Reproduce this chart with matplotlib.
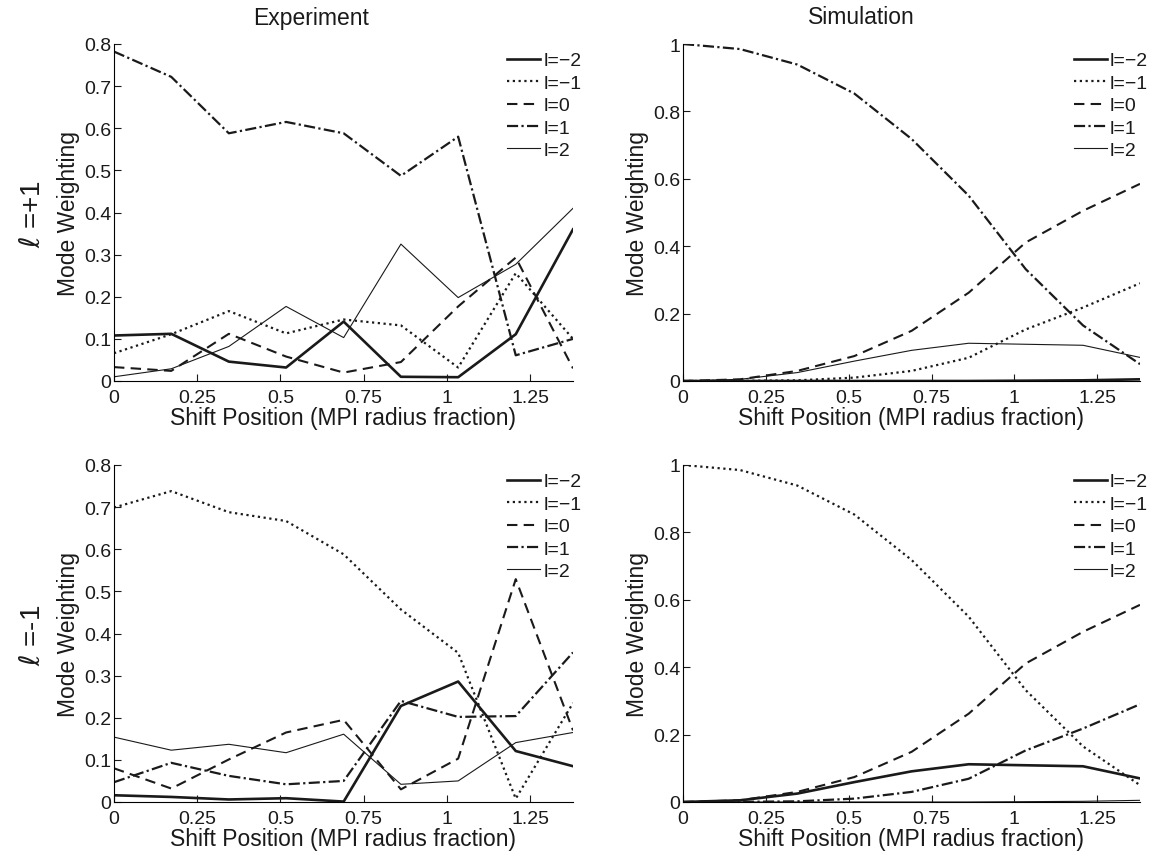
import numpy as np
import matplotlib
matplotlib.use('Agg')
import matplotlib.pyplot as plt

plt.rcParams['font.family'] = ['Liberation Sans', 'DejaVu Sans']

# posisi geser (fraksi radius MPI)
shift = [0, 0.172, 0.345, 0.517, 0.69, 0.862, 1.034, 1.207, 1.379]
mode_labels = ['l=\u22122', 'l=\u22121', 'l=0', 'l=1', 'l=2']

# Eksperimen, l=+1
exp_p1 = {
    'l=\u22122': [0.108, 0.112, 0.046, 0.032, 0.141, 0.010, 0.009, 0.111, 0.36],
    'l=\u22121': [0.066, 0.111, 0.166, 0.113, 0.146, 0.132, 0.032, 0.256, 0.10],
    'l=0':       [0.033, 0.024, 0.112, 0.058, 0.020, 0.045, 0.177, 0.293, 0.03],
    'l=1':       [0.782, 0.722, 0.588, 0.615, 0.588, 0.487, 0.580, 0.061, 0.10],
    'l=2':       [0.010, 0.029, 0.082, 0.177, 0.103, 0.325, 0.198, 0.277, 0.41],
}

# Eksperimen, l=-1
exp_m1 = {
    'l=\u22122': [0.016, 0.012, 0.006, 0.009, 0.001, 0.228, 0.286, 0.121, 0.085],
    'l=\u22121': [0.699, 0.738, 0.688, 0.667, 0.588, 0.457, 0.354, 0.008, 0.235],
    'l=0':       [0.080, 0.032, 0.101, 0.165, 0.195, 0.030, 0.103, 0.529, 0.17],
    'l=1':       [0.047, 0.093, 0.062, 0.042, 0.050, 0.240, 0.202, 0.204, 0.355],
    'l=2':       [0.154, 0.123, 0.137, 0.117, 0.161, 0.042, 0.050, 0.141, 0.165],
}

# Simulasi
sim_main = [1.0, 0.985, 0.939, 0.853, 0.718, 0.550, 0.332, 0.165, 0.05]
sim_zero = [0.0, 0.005, 0.030, 0.074, 0.149, 0.262, 0.411, 0.505, 0.585]
sim_side = [0.0, 0.0005, 0.002, 0.010, 0.030, 0.069, 0.153, 0.218, 0.29]
sim_hump = [0.0, 0.005, 0.025, 0.059, 0.091, 0.112, 0.109, 0.106, 0.07]
sim_flat = [0.0, 0.0, 0.0, 0.0, 0.0, 0.0, 0.001, 0.002, 0.005]

sim_p1 = {'l=\u22122': sim_flat, 'l=\u22121': sim_side, 'l=0': sim_zero,
          'l=1': sim_main, 'l=2': sim_hump}
sim_m1 = {'l=\u22122': sim_hump, 'l=\u22121': sim_main, 'l=0': sim_zero,
          'l=1': sim_side, 'l=2': sim_flat}

ink = '#1a1a1a'
styles = {
    'l=\u22122': dict(ls='-', lw=1.9),
    'l=\u22121': dict(ls=(0, (1, 1.6)), lw=1.6),
    'l=0':       dict(ls=(0, (5, 3)), lw=1.5),
    'l=1':       dict(ls=(0, (5, 1.5, 1, 1.5)), lw=1.6),
    'l=2':       dict(ls='-', lw=0.8),
}

fig = plt.figure(figsize=(11.58, 8.53), dpi=100)

W, H = 1158, 853
def make_axes(left, right, top, bottom):
    return fig.add_axes([left / W, 1 - bottom / H, (right - left) / W, (bottom - top) / H])

panels = [
    (make_axes(114, 573, 45, 382), exp_p1, 0.8, np.arange(0, 0.81, 0.1)),
    (make_axes(683, 1140, 45, 382), sim_p1, 1.0, np.arange(0, 1.01, 0.2)),
    (make_axes(114, 573, 466, 803), exp_m1, 0.8, np.arange(0, 0.81, 0.1)),
    (make_axes(683, 1140, 466, 803), sim_m1, 1.0, np.arange(0, 1.01, 0.2)),
]

for ax, data, ymax, yticks in panels:
    for lab in mode_labels:
        ax.plot(shift, data[lab], color=ink, label=lab, **styles[lab])
    ax.set_xlim(0, shift[-1])
    ax.set_ylim(0, ymax)
    ax.set_xticks([0, 0.25, 0.5, 0.75, 1, 1.25])
    ax.set_xticklabels(['0', '0.25', '0.5', '0.75', '1', '1.25'])
    ax.set_yticks(yticks)
    ax.set_yticklabels(['0'] + ['%g' % v for v in yticks[1:]])
    ax.spines['top'].set_visible(False)
    ax.spines['right'].set_visible(False)
    ax.tick_params(direction='in', labelsize=14, length=5, colors=ink)
    ax.tick_params(axis='x', pad=6)
    ax.tick_params(axis='y', pad=2)
    ax.set_xlabel('Shift Position (MPI radius fraction)', fontsize=16.5, color=ink, labelpad=0)
    ax.set_ylabel('Mode Weighting', fontsize=16.5, color=ink, labelpad=3)
    leg = ax.legend(loc='upper right', bbox_to_anchor=(1.035, 1.0), frameon=False,
                    fontsize=14, handlelength=1.7, handletextpad=0.15,
                    labelspacing=0.25, borderaxespad=0, borderpad=0.4)
    for t in leg.get_texts():
        t.set_color(ink)

# judul kolom
fig.text(311 / W, 1 - 18 / H, 'Experiment', fontsize=16.5, ha='center', va='center', color=ink)
fig.text(861 / W, 1 - 18 / H, 'Simulation', fontsize=16.5, ha='center', va='center', color=ink)

# label baris
fig.text(0.028, 1 - 214 / H, r'$\ell$ =+1', rotation=90, fontsize=20,
         ha='center', va='center', color=ink)
fig.text(0.028, 1 - 635 / H, r'$\ell$ =-1', rotation=90, fontsize=20,
         ha='center', va='center', color=ink)

fig.savefig('out.png', dpi=100)
